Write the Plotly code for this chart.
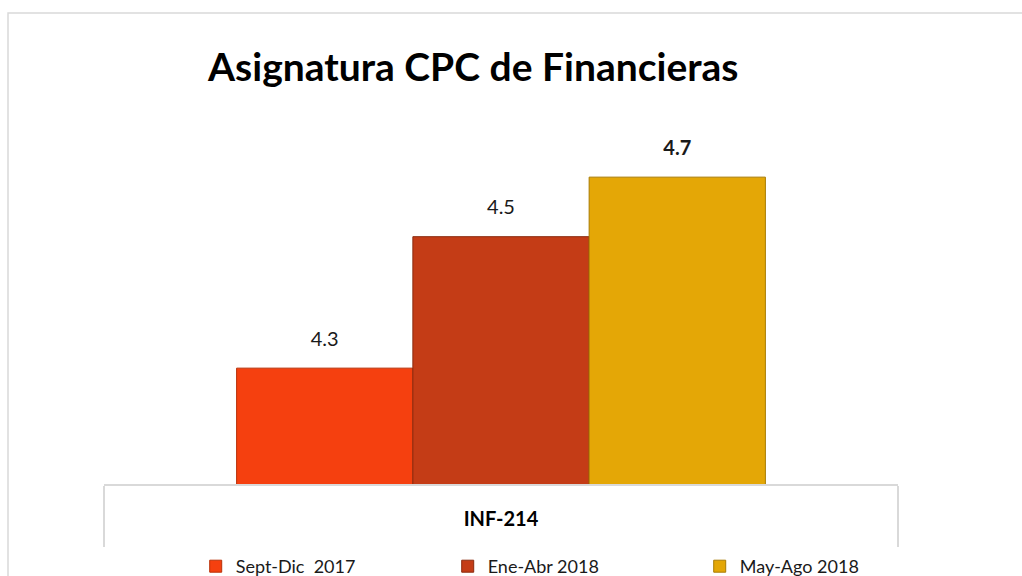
import plotly.graph_objects as go

categories = ["INF-214"]
series_names = ["Sept-Dic  2017", "Ene-Abr 2018", "May-Ago 2018"]
series_values = [[4.253], [4.54], [4.67]]
label_texts = ["4.3", "4.5", "<b>4.7</b>"]
colors = ["#F5400F", "#C43C16", "#E4A706"]
outline = ["#B83008", "#8A2A0E", "#A87C04"]

FONT = "Lato, Open Sans, sans-serif"

fig = go.Figure()
for i, (name, vals, c, oc) in enumerate(zip(series_names, series_values, colors, outline)):
    fig.add_trace(go.Bar(
        x=categories, y=vals, name=name, offsetgroup=str(i), alignmentgroup="a",
        marker=dict(color=c, line=dict(color=oc, width=1)),
    ))
for i, (vals, txt) in enumerate(zip(series_values, label_texts)):
    fig.add_trace(go.Scatter(
        x=categories, y=vals, mode="markers+text", text=[txt], textposition="top center",
        offsetgroup=str(i), alignmentgroup="a", showlegend=False, cliponaxis=False,
        marker=dict(size=26, opacity=0), hoverinfo="skip",
        textfont=dict(family=FONT, size=20, color="#1a1a1a"),
    ))

fig.update_layout(
    width=1022, height=576,
    margin=dict(l=104, r=124, t=100, b=92, autoexpand=False),
    barmode="group", bargap=0.334, bargroupgap=0,
    scattermode="group", scattergap=0.334,
    paper_bgcolor="white", plot_bgcolor="white",
    showlegend=True,
    legend=dict(orientation="h", x=0.1155, xanchor="left", y=-0.263, yanchor="bottom",
                bgcolor="rgba(0,0,0,0)",
                font=dict(family=FONT, size=18, color="#1a1a1a"),
                entrywidth=207, traceorder="normal"),
    annotations=[dict(text="<b>Asignatura CPC de Financieras</b>", xref="paper", yref="paper",
                      x=0.4635, y=1.089, xanchor="center", yanchor="middle", showarrow=False,
                      font=dict(family=FONT, size=39, color="#000000"))],
    shapes=[dict(type="rect", xref="paper", yref="paper", x0=-0.1209, x1=1.2, y0=-0.3, y1=1.2266,
                 line=dict(color="#D9D9D9", width=1.5), fillcolor="rgba(0,0,0,0)", layer="below")],
)
fig.update_xaxes(showline=True, linecolor="#D9D9D9", linewidth=1.5, automargin=False,
                 ticks="outside", tickson="boundaries", ticklen=61, tickcolor="#D9D9D9", tickwidth=1.5,
                 ticklabelstandoff=16,
                 tickfont=dict(family=FONT, size=20, color="#000000", weight="bold"))
fig.update_yaxes(range=[4.0, 4.0 + 384/458], visible=False, showgrid=False, automargin=False)

fig.write_html("out.html", config={"displayModeBar": False},
               post_script="document.body.style.margin='0';")
